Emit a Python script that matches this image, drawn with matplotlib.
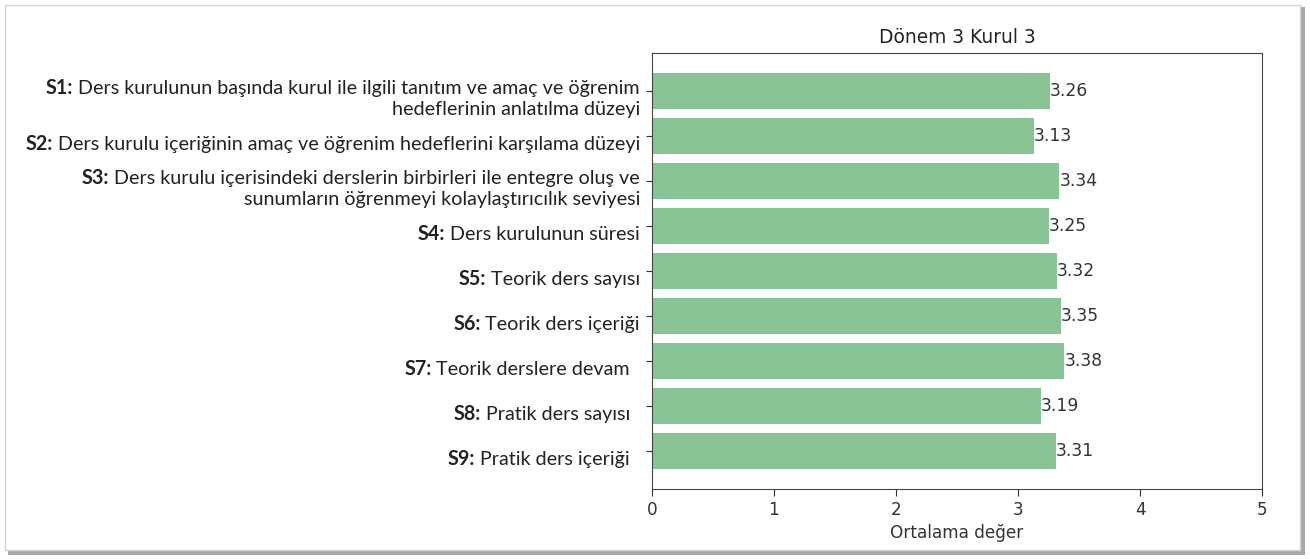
import matplotlib
matplotlib.use("Agg")
import matplotlib.pyplot as plt
from matplotlib.patches import Rectangle

# ---------------- data ----------------
prefixes = ["S1:", "S2:", "S3:", "S4:", "S5:", "S6:", "S7:", "S8:", "S9:"]
texts = [
    "Ders kurulunun başında kurul ile ilgili tanıtım ve amaç ve öğrenim\nhedeflerinin anlatılma düzeyi",
    "Ders kurulu içeriğinin amaç ve öğrenim hedeflerini karşılama düzeyi",
    "Ders kurulu içerisindeki derslerin birbirleri ile entegre oluş ve\nsunumların öğrenmeyi kolaylaştırıcılık seviyesi",
    "Ders kurulunun süresi",
    "Teorik ders sayısı",
    "Teorik ders içeriği",
    "Teorik derslere devam  ",
    "Pratik ders sayısı  ",
    "Pratik ders içeriği  ",
]
values = [3.26, 3.13, 3.34, 3.25, 3.32, 3.35, 3.38, 3.19, 3.31]
title = "Dönem 3 Kurul 3"
xlabel = "Ortalama değer"
xticks = [0, 1, 2, 3, 4, 5]

# ---------------- figure ----------------
W, H = 1310, 559
fig = plt.figure(figsize=(W / 100, H / 100), dpi=100)
fig.patch.set_facecolor("white")

# framed "pasted picture" look with drop shadow
fig.add_artist(Rectangle((8 / W, 1 - 555 / H), 1297 / W, 548 / H,
                         transform=fig.transFigure, facecolor="#a8a8a8",
                         edgecolor="none", zorder=-3))
fig.add_artist(Rectangle((5 / W, 1 - 550 / H), 1295 / W, 545 / H,
                         transform=fig.transFigure, facecolor="white",
                         edgecolor="#d4d4d4", linewidth=1.0, zorder=-2))

ax = fig.add_axes([652 / W, 1 - 489 / H, 610 / W, 436 / H])
pos = list(range(len(values)))
ax.barh(pos, values, height=0.8, color="#88c496")
ax.invert_yaxis()
ax.set_xlim(0, 5)
ax.set_xticks(xticks)
ax.set_yticks(pos)
ax.set_yticklabels([])
ax.tick_params(axis="x", labelsize=12.2, colors="#333333", length=5)
ax.tick_params(axis="y", length=4, color="#333333")
for s in ax.spines.values():
    s.set_color("#444444")
ax.set_xlabel(xlabel, fontsize=12.2, color="#333333", labelpad=4)
ax.set_title(title, fontsize=13.4, color="#222222", pad=7)

for p, v in zip(pos, values):
    ax.text(v, p, f"{v:.2f}", ha="left", va="center", fontsize=12.3, color="#333333")

# y labels: bold prefix + regular text, right aligned, multi-line
fs = 14.2
lab_font = "Lato"
fig.canvas.draw()
renderer = fig.canvas.get_renderer()
lh = 21.0          # line spacing in px
base_shift = 14.0  # baseline below tick, px
right_px = -12
for p, pre, t in zip(pos, prefixes, texts):
    lines = t.split("\n")
    n = len(lines)
    for k, line in enumerate(lines):
        dy = -(k - (n - 1) / 2) * lh - base_shift
        txt = " " + line if k == 0 else line
        a = ax.annotate(txt, xy=(0, p), xycoords=("axes fraction", "data"),
                        xytext=(right_px, dy), textcoords="offset pixels",
                        ha="right", va="baseline", fontsize=fs,
                        family=lab_font, color="#222222", annotation_clip=False)
        if k == 0:
            w = a.get_window_extent(renderer).width
            ax.annotate(pre, xy=(0, p), xycoords=("axes fraction", "data"),
                        xytext=(right_px - w, dy), textcoords="offset pixels",
                        ha="right", va="baseline", fontsize=fs,
                        family=lab_font, fontweight="bold", color="#222222",
                        annotation_clip=False)

fig.savefig("out.png", dpi=100)
